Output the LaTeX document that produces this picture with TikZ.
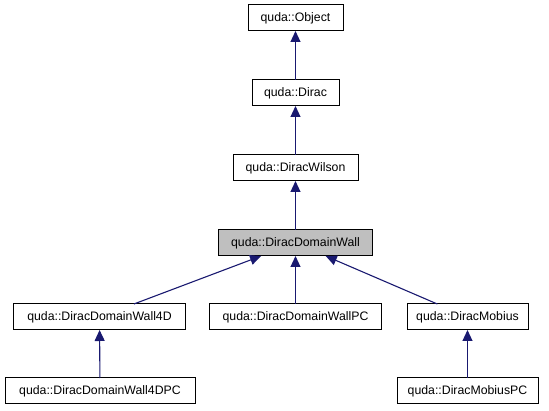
\documentclass[tikz,border=0pt]{standalone}
\usepackage{fontspec}
\setmainfont{Liberation Sans}
\usetikzlibrary{arrows.meta}
\definecolor{edgeblue}{HTML}{191970}
\definecolor{nodegray}{HTML}{BFBFBF}
\tikzset{
  cls/.style={draw=black, line width=1pt, fill=white, inner sep=0pt, outer sep=0pt,
    minimum height=26pt, font=\fontsize{12.3}{14}\selectfont},
  edge/.style={draw=edgeblue, line width=1.1pt,
    {Triangle[width=10pt,length=11pt,fill=edgeblue]}-}
}
\begin{document}
\begin{tikzpicture}[x=1pt,y=-1pt]
\useasboundingbox (0,0) rectangle (549,411);
\node[cls, minimum width=95pt] (obj) at (295.5,18) {quda::Object};
\node[cls, minimum width=87pt] (dirac) at (295.5,93) {quda::Dirac};
\node[cls, minimum width=125pt] (wil) at (295.5,168) {quda::DiracWilson};
\node[cls, minimum width=154pt, fill=nodegray] (ddw) at (295.5,243) {quda::DiracDomainWall};
\node[cls, minimum width=172pt] (dw4d) at (99.5,317) {quda::DiracDomainWall4D};
\node[cls, minimum width=172pt] (dwpc) at (295.5,317) {quda::DiracDomainWallPC};
\node[cls, minimum width=121pt] (mob) at (467.5,317) {quda::DiracMobius};
\node[cls, minimum width=190pt] (dw4dpc) at (100,391) {quda::DiracDomainWall4DPC};
\node[cls, minimum width=141pt] (mobpc) at (467.5,391) {quda::DiracMobiusPC};
\draw[edge] (obj) -- (dirac);
\draw[edge] (dirac) -- (wil);
\draw[edge] (wil) -- (ddw);
\draw[edge] (ddw) -- (dw4d);
\draw[edge] (ddw) -- (dwpc);
\draw[edge] (ddw) -- (mob);
\draw[edge] (dw4d) -- (dw4dpc);
\draw[edge] (mob) -- (mobpc);
\end{tikzpicture}
\end{document}
